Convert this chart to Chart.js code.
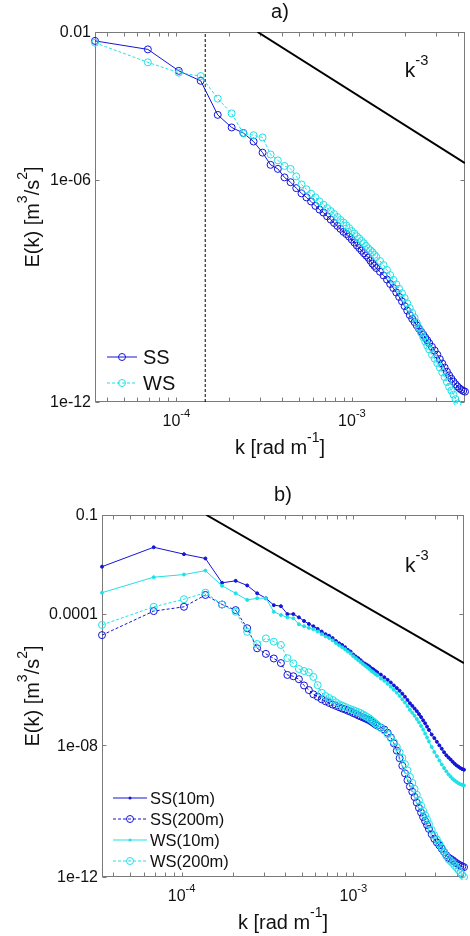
<!DOCTYPE html>
<html><head><meta charset="utf-8">
<script src="https://cdn.jsdelivr.net/npm/chart.js@4/dist/chart.umd.min.js"></script>
<style>
html,body{margin:0;padding:0;background:#fff;}
canvas{display:block;}
</style></head><body>
<canvas id="chartA" width="470" height="468"></canvas>
<canvas id="chartB" width="470" height="468"></canvas>
<script>
const FONT = '"Liberation Sans", Arial, Helvetica, sans-serif';
const BLUE = 'rgb(20,20,215)';
const CYAN = 'rgb(30,225,230)';

// wavenumber harmonics (k = n * dk)
const dk = 3.44e-5;
const harm = [1,2,3,4,5,6,7,8,9,10,11,12,13,14,15,16,17,18,19,20,
  21,22,23,24,25,26,27,28,29,30,31,32,33,34,35,36,37,38,39,40,
  42,44,46,48,50,52,54,56,58,60,62,64,66,68,70,72,74,76,78,80,
  83,86,89,92,95,98,101,104,107,110,113,116,119,122,125,128];
const kMin = dk, kMax = 128 * dk;

// panel a) log10 E(k)
const ssA = [-2.24,-2.47,-3.05,-3.32,-4.24,-4.58,-4.73,-4.96,-5.26,-5.59,-5.70,-5.93,-6.06,-6.22,-6.36,-6.47,-6.58,-6.70,-6.80,-6.88,
  -6.98,-7.07,-7.16,-7.24,-7.32,-7.40,-7.46,-7.53,-7.61,-7.69,-7.77,-7.84,-7.91,-7.98,-8.04,-8.10,-8.18,-8.26,-8.32,-8.38,
  -8.48,-8.58,-8.69,-8.81,-8.92,-9.04,-9.16,-9.28,-9.41,-9.53,-9.65,-9.75,-9.84,-9.93,-10.02,-10.10,-10.18,-10.26,-10.33,-10.41,
  -10.51,-10.61,-10.72,-10.84,-10.96,-11.07,-11.18,-11.28,-11.37,-11.45,-11.52,-11.58,-11.63,-11.67,-11.70,-11.72];
const wsA = [-2.29,-2.82,-3.10,-3.19,-3.80,-4.20,-4.74,-4.79,-4.85,-5.31,-5.47,-5.62,-5.70,-5.90,-6.12,-6.25,-6.37,-6.47,-6.58,-6.67,
  -6.76,-6.84,-6.92,-7.00,-7.08,-7.15,-7.23,-7.30,-7.38,-7.45,-7.52,-7.58,-7.65,-7.71,-7.78,-7.85,-7.90,-7.95,-8.02,-8.08,
  -8.19,-8.30,-8.43,-8.57,-8.70,-8.82,-8.94,-9.06,-9.19,-9.33,-9.46,-9.59,-9.72,-9.86,-10.00,-10.13,-10.25,-10.37,-10.48,-10.58,
  -10.72,-10.83,-10.95,-11.07,-11.20,-11.33,-11.46,-11.59,-11.69,-11.80,-11.92,-12.04,-12.15,-12.24,-12.33,-12.42];

// panel b) log10 E(k)
const ss10 = [-2.57,-1.98,-2.19,-2.32,-3.06,-3.00,-3.14,-3.38,-3.53,-3.74,-3.77,-4.01,-4.01,-4.11,-4.22,-4.31,-4.38,-4.46,-4.54,-4.62,
  -4.67,-4.74,-4.83,-4.90,-4.95,-5.02,-5.10,-5.15,-5.24,-5.30,-5.35,-5.41,-5.48,-5.52,-5.56,-5.60,-5.66,-5.69,-5.74,-5.78,
  -5.85,-5.93,-6.01,-6.09,-6.18,-6.26,-6.34,-6.43,-6.52,-6.62,-6.72,-6.80,-6.88,-6.96,-7.05,-7.14,-7.24,-7.33,-7.43,-7.53,
  -7.67,-7.78,-7.89,-8.00,-8.10,-8.21,-8.30,-8.37,-8.43,-8.50,-8.56,-8.61,-8.65,-8.69,-8.72,-8.74];
const ss200 = [-4.65,-3.92,-3.79,-3.43,-3.72,-3.89,-4.44,-5.05,-5.22,-5.36,-5.50,-5.86,-5.90,-5.99,-6.18,-6.32,-6.45,-6.52,-6.60,-6.66,
  -6.71,-6.76,-6.80,-6.84,-6.88,-6.91,-6.95,-6.98,-7.02,-7.05,-7.09,-7.12,-7.15,-7.18,-7.21,-7.24,-7.28,-7.32,-7.36,-7.40,
  -7.46,-7.52,-7.62,-7.76,-7.94,-8.16,-8.39,-8.62,-8.85,-9.06,-9.25,-9.41,-9.57,-9.74,-9.90,-10.04,-10.18,-10.30,-10.42,-10.54,
  -10.70,-10.84,-10.95,-11.04,-11.14,-11.24,-11.34,-11.41,-11.45,-11.49,-11.54,-11.58,-11.62,-11.65,-11.68,-11.70];
const ws10 = [-3.36,-2.89,-2.81,-2.69,-3.15,-3.38,-3.58,-3.53,-3.53,-3.94,-4.04,-4.11,-4.14,-4.32,-4.38,-4.43,-4.47,-4.54,-4.62,-4.69,
  -4.74,-4.81,-4.89,-4.96,-5.02,-5.08,-5.15,-5.21,-5.29,-5.35,-5.41,-5.47,-5.53,-5.58,-5.63,-5.68,-5.74,-5.78,-5.83,-5.87,
  -5.97,-6.04,-6.13,-6.22,-6.31,-6.40,-6.50,-6.60,-6.70,-6.81,-6.92,-7.01,-7.10,-7.20,-7.30,-7.41,-7.52,-7.64,-7.76,-7.88,
  -8.05,-8.20,-8.33,-8.46,-8.58,-8.69,-8.79,-8.88,-8.95,-9.02,-9.07,-9.11,-9.15,-9.18,-9.20,-9.22];
const ws200 = [-4.34,-3.79,-3.56,-3.36,-3.72,-3.94,-4.55,-4.92,-4.75,-4.85,-4.95,-5.35,-5.51,-5.68,-5.74,-5.78,-5.92,-6.17,-6.40,-6.50,
  -6.56,-6.62,-6.69,-6.75,-6.79,-6.83,-6.87,-6.90,-6.93,-6.96,-6.99,-7.02,-7.06,-7.10,-7.14,-7.18,-7.23,-7.28,-7.33,-7.38,
  -7.47,-7.55,-7.66,-7.78,-7.90,-8.05,-8.21,-8.38,-8.57,-8.76,-8.96,-9.14,-9.32,-9.50,-9.67,-9.83,-9.99,-10.12,-10.25,-10.39,
  -10.57,-10.73,-10.86,-10.99,-11.11,-11.24,-11.36,-11.46,-11.52,-11.58,-11.65,-11.72,-11.79,-11.86,-11.93,-12.00];

// reference k^-3 slopes, cutoff line, label anchors
const slopeA_k = [2.9e-4, 4.403e-3], slopeA_E = [1e-2, 2.86e-6];
const slopeB_k = [1.394e-4, 4.403e-3], slopeB_E = [1e-1, 3.17e-6];
const cutoffK = 1.46e-4;
const slopeLabelA = [2.0e-3, 8.9e-4], slopeLabelB = [2.0e-3, 2.8e-3];

const yTicksA = [1e-12, 1e-6, 1e-2], yLabelsA = ['1e-12', '1e-06', '0.01'];
const yTicksB = [1e-12, 1e-8, 1e-4, 1e-1], yLabelsB = ['1e-12', '1e-08', '0.0001', '0.1'];
const xTicks = [1e-4, 1e-3], xTickExp = ['-4', '-3'];

const kVals = harm.map(n => n * dk);
const pts = vals => vals.map((v, i) => ({x: kVals[i], y: Math.pow(10, v)}));
const pair = (xs, ys) => xs.map((v, i) => ({x: v, y: ys[i]}));

function series(label, vals, color, dash, marker, order) {
  const circ = marker === 'o';
  return {
    label, data: pts(vals), borderColor: color, borderWidth: 1, borderDash: dash,
    pointRadius: circ ? 3.5 : 1.5, pointBorderWidth: 1, pointBorderColor: color,
    pointBackgroundColor: circ ? 'rgba(0,0,0,0)' : color, tension: 0, order,
    clip: {left: 6, right: 6, top: 6, bottom: 3}
  };
}
function refLine(data, dash, width) {
  return {data, borderColor: '#000', borderWidth: width, borderDash: dash, pointRadius: 0, order: 10, clip: 0};
}

function richWidth(ctx, parts, size) {
  let w = 0;
  parts.forEach(p => { ctx.font = (p[1] ? size * 0.7 : size) + 'px ' + FONT; w += ctx.measureText(p[0]).width; });
  return w;
}
function drawRich(ctx, parts, x, y, size, align) {
  const w = richWidth(ctx, parts, size);
  let cx = align === 'center' ? x - w / 2 : (align === 'right' ? x - w : x);
  ctx.textAlign = 'left'; ctx.textBaseline = 'middle';
  parts.forEach(p => {
    ctx.font = (p[1] ? size * 0.7 : size) + 'px ' + FONT;
    ctx.fillText(p[0], cx, p[1] ? y - size * 0.48 : y);
    cx += ctx.measureText(p[0]).width;
  });
}

const frame = {
  id: 'frame',
  beforeDatasetsDraw(chart, args, o) {
    const {ctx, chartArea: a, scales: {x, y}} = chart;
    const L = Math.round(a.left) + 0.5, R = Math.round(a.right) - 0.5;
    const T = Math.round(a.top) + 0.5, B = Math.round(a.bottom) - 0.5;
    ctx.save();
    ctx.strokeStyle = '#7a7a7a'; ctx.lineWidth = 1;
    ctx.strokeRect(L, T, R - L, B - T);
    ctx.beginPath();
    for (let e = -5; e <= -3; e++) for (let m = 1; m <= 9; m++) {
      const v = m * Math.pow(10, e);
      if (v < x.min * 1.01 || v > x.max * 0.99) continue;
      const px = Math.round(x.getPixelForValue(v)) + 0.5;
      ctx.moveTo(px, B); ctx.lineTo(px, B - 4);
      ctx.moveTo(px, T); ctx.lineTo(px, T + 4);
    }
    o.yTicks.forEach(v => {
      const py = Math.round(y.getPixelForValue(v)) + 0.5;
      ctx.moveTo(L, py); ctx.lineTo(L + 4, py);
      ctx.moveTo(R, py); ctx.lineTo(R - 4, py);
    });
    ctx.stroke();
    ctx.restore();
  },
  afterDraw(chart, args, o) {
    const {ctx, chartArea: a, scales: {x, y}} = chart;
    ctx.save();
    ctx.fillStyle = '#111';
    ctx.font = '16px ' + FONT; ctx.textAlign = 'right'; ctx.textBaseline = 'middle';
    o.yTicks.forEach((v, i) => ctx.fillText(o.yLabels[i], a.left - 4, y.getPixelForValue(v) + 1));
    xTicks.forEach((v, i) => drawRich(ctx, [['10', 0], [xTickExp[i], 1]], x.getPixelForValue(v), a.bottom + 20, 16, 'center'));
    drawRich(ctx, [['k [rad m', 0], ['-1', 1], [']', 0]], (a.left + a.right) / 2, a.bottom + 46, 20, 'center');
    ctx.save();
    ctx.translate(33, (a.top + a.bottom) / 2); ctx.rotate(-Math.PI / 2);
    drawRich(ctx, [['E(k) [m', 0], ['3', 1], ['/s', 0], ['2', 1], [']', 0]], 0, 0, 20, 'center');
    ctx.restore();
    ctx.font = '20px ' + FONT; ctx.textAlign = 'center'; ctx.textBaseline = 'middle';
    ctx.fillText(o.title, (a.left + a.right) / 2, a.top - 20);
    drawRich(ctx, [['k', 0], ['-3', 1]], x.getPixelForValue(o.slopeLabel[0]), y.getPixelForValue(o.slopeLabel[1]), 21, 'left');

    // legend
    o.legend.forEach((it, i) => {
      const yy = a.bottom + o.legendRows[i];
      const x0 = a.left + o.legendX[0], x1 = a.left + o.legendX[1];
      ctx.strokeStyle = it.color; ctx.lineWidth = 1; ctx.setLineDash(it.dash);
      ctx.beginPath(); ctx.moveTo(x0, yy); ctx.lineTo(x1, yy); ctx.stroke();
      ctx.setLineDash([]);
      ctx.beginPath(); ctx.arc((x0 + x1) / 2, yy, it.marker === 'o' ? 3.5 : 1.5, 0, 2 * Math.PI);
      if (it.marker === 'o') ctx.stroke(); else { ctx.fillStyle = it.color; ctx.fill(); }
      ctx.fillStyle = '#111'; ctx.font = o.legendFont + 'px ' + FONT;
      ctx.textAlign = 'left'; ctx.textBaseline = 'middle';
      ctx.fillText(it.label, a.left + o.legendX[2], yy + 1);
    });
    ctx.restore();
  }
};

function makeChart(id, datasets, yMin, yMax, padding, opts) {
  return new Chart(document.getElementById(id), {
    type: 'line',
    data: {datasets},
    options: {
      responsive: false, animation: false, events: [],
      layout: {padding},
      scales: {
        x: {type: 'logarithmic', min: kMin, max: kMax, display: false},
        y: {type: 'logarithmic', min: yMin, max: yMax, display: false}
      },
      plugins: {legend: {display: false}, tooltip: {enabled: false}, frame: opts}
    },
    plugins: [frame]
  });
}

makeChart('chartA', [
  series('SS', ssA, BLUE, [], 'o', 2),
  series('WS', wsA, CYAN, [3, 2], 'o', 1),
  refLine(pair(slopeA_k, slopeA_E), [], 2),
  refLine(pair([cutoffK, cutoffK], [1e-12, 1e-2]), [3, 2], 1)
], 1e-12, 1e-2, {left: 95, top: 32, right: 5, bottom: 66}, {
  title: 'a)', yTicks: yTicksA, yLabels: yLabelsA, slopeLabel: slopeLabelA,
  legendFont: 20, legendRows: [-45, -19], legendX: [12, 42, 48],
  legend: [
    {label: 'SS', color: BLUE, dash: [], marker: 'o'},
    {label: 'WS', color: CYAN, dash: [3, 2], marker: 'o'}
  ]
});

makeChart('chartB', [
  series('SS(10m)', ss10, BLUE, [], '.', 4),
  series('SS(200m)', ss200, BLUE, [3, 2], 'o', 3),
  series('WS(10m)', ws10, CYAN, [], '.', 2),
  series('WS(200m)', ws200, CYAN, [3, 2], 'o', 1),
  refLine(pair(slopeB_k, slopeB_E), [], 2)
], 1e-12, 1e-1, {left: 102, top: 47, right: 6, bottom: 59}, {
  title: 'b)', yTicks: yTicksB, yLabels: yLabelsB, slopeLabel: slopeLabelB,
  legendFont: 16.5, legendRows: [-79, -58, -37, -16], legendX: [11, 45, 48],
  legend: [
    {label: 'SS(10m)', color: BLUE, dash: [], marker: '.'},
    {label: 'SS(200m)', color: BLUE, dash: [3, 2], marker: 'o'},
    {label: 'WS(10m)', color: CYAN, dash: [], marker: '.'},
    {label: 'WS(200m)', color: CYAN, dash: [3, 2], marker: 'o'}
  ]
});
</script>
</body></html>
